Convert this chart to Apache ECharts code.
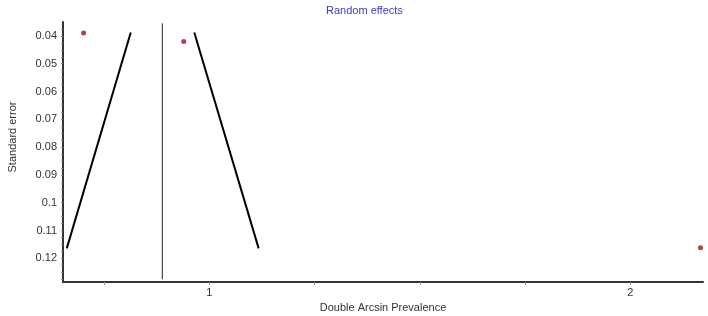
<!DOCTYPE html>
<html>
<head>
<meta charset="utf-8">
<script src="https://cdn.jsdelivr.net/npm/echarts@6/dist/echarts.min.js"></script>
<style>
  html, body { margin: 0; padding: 0; background: #fff; }
  #funnel { width: 708px; height: 316px; }
</style>
</head>
<body>
<div id="funnel"></div>
<script>
// studies (double arcsin prevalence vs standard error)
var studyX = [0.701, 0.939, 2.167];
var studySE = [0.039, 0.042, 0.1162];

// pooled estimate (random effects)
var pooledX = 0.888;
var pooledSE = [0.0355, 0.1275];

// funnel limits, read at top and bottom
var funnelSE = [0.0388, 0.1164];
var funnelLeftX = [0.813, 0.661];
var funnelRightX = [0.964, 1.117];

// ticks
var yLabels = [0.04, 0.05, 0.06, 0.07, 0.08, 0.09, 0.1, 0.11, 0.12];
var yTicks = [0.0375, 0.04, 0.0425, 0.045, 0.0475, 0.05, 0.0525, 0.055, 0.0575, 0.06, 0.0625, 0.065, 0.0675, 0.07,
  0.0725, 0.075, 0.0775, 0.08, 0.0825, 0.085, 0.0875, 0.09, 0.0925, 0.095, 0.0975, 0.1, 0.1025, 0.105, 0.1075,
  0.11, 0.1125, 0.115, 0.1175, 0.12, 0.1225, 0.125, 0.1275];
var xLabels = [1, 2];
var xTicks = [0.75, 1, 1.25, 1.5, 1.75, 2];

var pts = [];
for (var i = 0; i < studyX.length; i++) {
  pts.push([studyX[i], studySE[i]]);
}
var leftLine = [], rightLine = [];
for (var j = 0; j < funnelSE.length; j++) {
  leftLine.push([funnelLeftX[j], funnelSE[j]]);
  rightLine.push([funnelRightX[j], funnelSE[j]]);
}
var midLine = [[pooledX, pooledSE[0]], [pooledX, pooledSE[1]]];

var chartObj = echarts.init(document.getElementById('funnel'));
var font = 'Liberation Sans, Arial, sans-serif';

var option = {
  animation: false,
  title: {
    text: 'Random effects',
    left: 321,
    top: 0,
    textStyle: { color: '#3b3bc8', fontSize: 11, fontWeight: 'normal', fontFamily: font }
  },
  grid: { left: 63, right: 5, top: 22, bottom: 34, outerBoundsMode: 'none', containLabel: false },
  xAxis: {
    type: 'value',
    min: 0.652,
    max: 2.173,
    name: 'Double Arcsin Prevalence',
    nameLocation: 'middle',
    nameGap: 19,
    nameTextStyle: { color: '#333', fontSize: 11, fontFamily: font },
    axisLine: { lineStyle: { color: '#333', width: 2 } },
    axisTick: { customValues: xTicks, length: 3, lineStyle: { color: '#999' } },
    axisLabel: {
      customValues: xLabels, margin: 5, color: '#333', fontSize: 11, fontFamily: font,
      formatter: function (v) { return String(v); }
    },
    splitLine: { show: false }
  },
  yAxis: {
    type: 'value',
    inverse: true,
    min: 0.035,
    max: 0.1285,
    name: 'Standard error',
    nameLocation: 'middle',
    nameGap: 45,
    nameRotate: 90,
    nameTextStyle: { color: '#333', fontSize: 11, fontFamily: font, padding: [0, 0, 0, 30] },
    axisLine: { lineStyle: { color: '#333', width: 2 } },
    axisTick: { customValues: yTicks, length: 2, lineStyle: { color: '#888' } },
    axisLabel: {
      customValues: yLabels, margin: 6, color: '#333', fontSize: 11, fontFamily: font,
      formatter: function (v) { return String(+v.toFixed(2)); }
    },
    splitLine: { show: false }
  },
  series: [
    {
      type: 'line', data: midLine, symbol: 'none',
      lineStyle: { color: '#222', width: 1 }
    },
    {
      type: 'line', data: leftLine, symbol: 'none',
      lineStyle: { color: '#000', width: 2 }
    },
    {
      type: 'line', data: rightLine, symbol: 'none',
      lineStyle: { color: '#000', width: 2 }
    },
    {
      type: 'scatter', data: pts, symbolSize: 5,
      itemStyle: { color: '#9a141b' }
    }
  ]
};

chartObj.setOption(option);
</script>
</body>
</html>
